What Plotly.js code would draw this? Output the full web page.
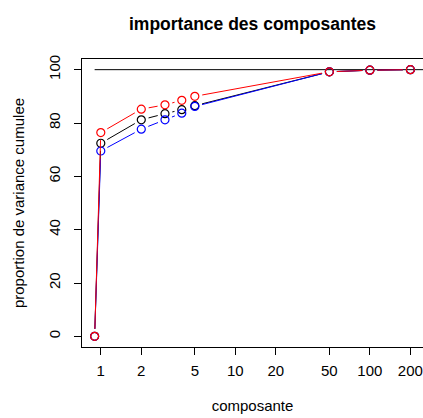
<!DOCTYPE html>
<html><head><meta charset="utf-8">
<script src="https://cdn.plot.ly/plotly-3.0.1.min.js"></script>
<style>html,body{margin:0;padding:0;background:#fff}#g{width:423px;height:418px}</style>
</head><body><div id="g"></div>
<script>
// ---- data ----
const composante = [0.9, 1, 2, 3, 4, 5, 50, 100, 200];
const varianceBlack = [0, 72.4, 81.2, 83.5, 85.0, 86.5, 99.2, 99.8, 100];
const varianceBlue  = [0, 69.5, 77.7, 81.2, 83.7, 86.2, 99.2, 99.8, 100];
const varianceRed   = [0, 76.4, 85.2, 86.8, 88.5, 90.0, 99.2, 99.8, 100];
const refLineX = [0.9, 1000];
const refLineY = [100, 100];
const xTickVals = [1, 2, 5, 10, 20, 50, 100, 200];
const xTickText = ['1', '2', '5', '10', '20', '50', '100', '200'];
const yTickVals = [0, 20, 40, 60, 80, 100];
const yTickText = ['0', '20', '40', '60', '80', '100'];

const FONT = 'Liberation Sans, Arial, Helvetica, sans-serif';
const series = [
  {y: varianceBlack, color: '#000000'},
  {y: varianceBlue,  color: '#0000FF'},
  {y: varianceRed,   color: '#FF0000'}
];

// R-like ranges (4% extension)
const lx0 = Math.log10(Math.min(...composante)), lx1 = Math.log10(Math.max(...composante));
const dx = (lx1 - lx0) * 0.04;
const allY = varianceBlack.concat(varianceBlue, varianceRed);
const y0 = Math.min(...allY), y1 = Math.max(...allY);
const dy = (y1 - y0) * 0.04;

const axisCommon = {
  showgrid: false, zeroline: false, showline: true, mirror: true,
  linecolor: '#000', linewidth: 1, ticks: 'outside', ticklen: 7, tickwidth: 1,
  tickcolor: '#000', tickmode: 'array',
  tickfont: {family: FONT, size: 15, color: '#000'}
};

const layout = {
  width: 423, height: 418,
  margin: {l: 82, r: 0, t: 59, b: 71, pad: 0},
  paper_bgcolor: '#fff', plot_bgcolor: '#fff',
  showlegend: false,
  title: {text: 'importance des composantes', font: {family: FONT, size: 17.5, color: '#000', weight: 'bold'},
          x: 0.5, xanchor: 'center', xref: 'paper', y: 1 - 24 / 418, yanchor: 'middle', yref: 'container'},
  xaxis: Object.assign({}, axisCommon, {
    type: 'log', range: [lx0 - dx, lx1 + dx], autorange: false,
    tickvals: xTickVals, ticktext: xTickText, tickangle: 0, ticklabelstandoff: 3,
    title: {text: 'composante', font: {family: FONT, size: 15, color: '#000'}, standoff: 22}
  }),
  yaxis: Object.assign({}, axisCommon, {
    range: [y0 - dy, y1 + dy], autorange: false,
    tickvals: yTickVals, ticktext: yTickText, tickangle: -90, ticklabelstandoff: 8,
    title: {text: 'proportion de variance cumulee', font: {family: FONT, size: 15, color: '#000'}, standoff: 17}
  })
};

function markerTrace(s) {
  return {x: composante, y: s.y, type: 'scatter', mode: 'markers', hoverinfo: 'skip',
          marker: {symbol: 'circle-open', size: 8, color: s.color, line: {width: 1.2, color: s.color}}};
}
const refTrace = {x: refLineX, y: refLineY, type: 'scatter', mode: 'lines', hoverinfo: 'skip',
                  line: {color: '#000', width: 1}};

const gd = document.getElementById('g');
Plotly.newPlot(gd, [refTrace].concat(series.map(markerTrace)), layout, {staticPlot: true}).then(function () {
  const xa = gd._fullLayout.xaxis, ya = gd._fullLayout.yaxis;
  const GAP = 7.5; // px gap around points (R type = "b")
  const traces = [refTrace];
  series.forEach(function (s) {
    const sx = [], sy = [];
    for (let i = 0; i < composante.length - 1; i++) {
      const ax = xa.l2p(Math.log10(composante[i])), ay = ya.l2p(s.y[i]);
      const bx = xa.l2p(Math.log10(composante[i + 1])), by = ya.l2p(s.y[i + 1]);
      const len = Math.hypot(bx - ax, by - ay);
      if (len <= 2 * GAP) continue;
      const ux = (bx - ax) / len, uy = (by - ay) / len;
      const p1x = ax + ux * GAP, p1y = ay + uy * GAP, p2x = bx - ux * GAP, p2y = by - uy * GAP;
      sx.push(Math.pow(10, xa.p2l(p1x)), Math.pow(10, xa.p2l(p2x)), null);
      sy.push(ya.p2l(p1y), ya.p2l(p2y), null);
    }
    traces.push({x: sx, y: sy, type: 'scatter', mode: 'lines', connectgaps: false, hoverinfo: 'skip',
                 line: {color: s.color, width: 1}});
    traces.push(markerTrace(s));
  });
  return Plotly.react(gd, traces, layout, {staticPlot: true});
});
</script>
</body></html>
